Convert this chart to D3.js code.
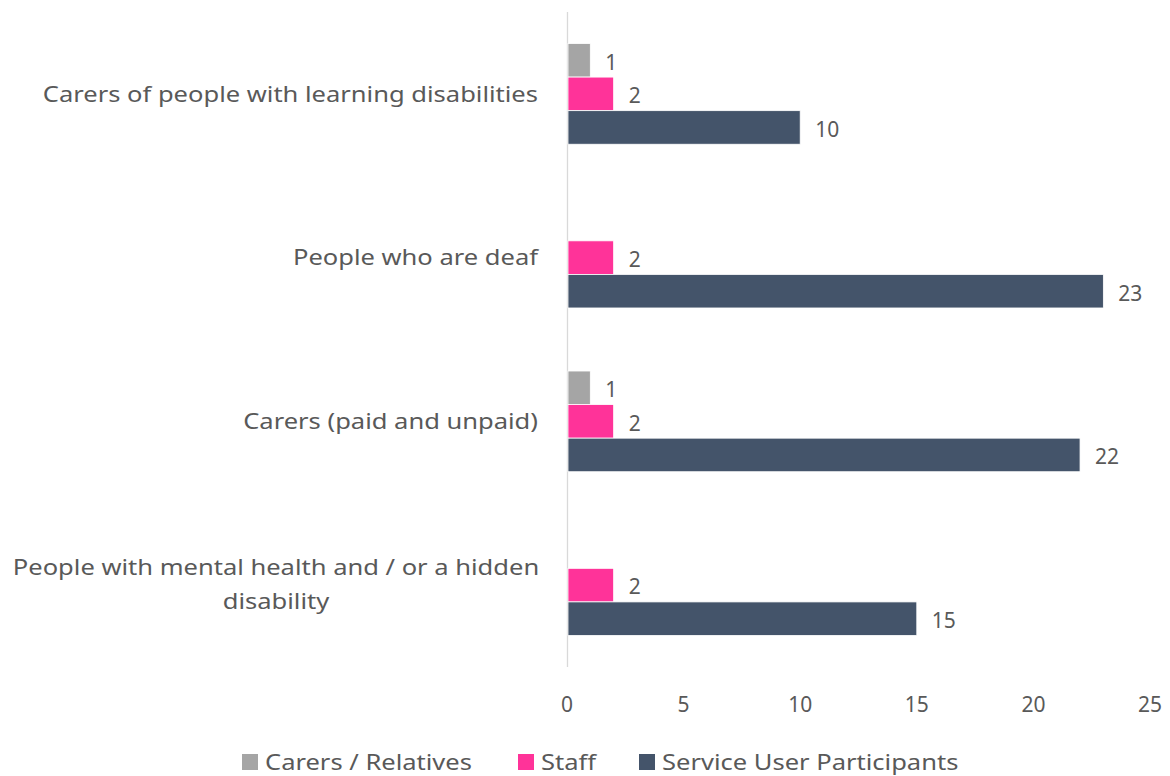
<!DOCTYPE html>
<html><head>
<meta charset="utf-8">
<script src="https://d3js.org/d3.v7.min.js"></script>
<style>
body { margin: 0; background: #fff; }
svg text { font-family: 'Noto Sans', sans-serif; fill: #595959; }
</style>
</head>
<body>
<svg id="chart" width="1170" height="776"></svg>
<script>
// data
const categories = [
  "Carers of people with learning disabilities",
  "People who are deaf",
  "Carers (paid and unpaid)",
  "People with mental health and / or a hidden disability"
];
const seriesNames = ["Carers / Relatives", "Staff", "Service User Participants"];
const carersRelatives = [1, null, 1, null];
const staff = [2, 2, 2, 2];
const serviceUsers = [10, 23, 22, 15];
const xTicks = [0, 5, 10, 15, 20, 25];
const colors = ["#A5A5A5", "#FF3399", "#44546A"];

const svg = d3.select('#chart');
const plotLeft = 567, plotRight = 1150, plotTop = 12, plotBottom = 667;
const fs = 22;
const stretch = 1.16; // reference font is a wide geometric face

function widen(sel) {
  sel.each(function () {
    const w = this.getComputedTextLength();
    d3.select(this).attr('textLength', w * stretch).attr('lengthAdjust', 'spacingAndGlyphs');
  });
  return sel;
}

const x = d3.scaleLinear().domain([0, 25]).range([plotLeft, plotRight]);
const y = d3.scaleBand().domain(categories).range([plotTop, plotBottom]);
const barH = y.bandwidth() * 0.205;
const series = [carersRelatives, staff, serviceUsers];

// axis line
svg.append('line')
  .attr('x1', plotLeft + 0.5).attr('x2', plotLeft + 0.5)
  .attr('y1', plotTop).attr('y2', plotBottom)
  .attr('stroke', '#D9D9D9').attr('stroke-width', 1.3);

// bars
series.forEach((vals, s) => {
  categories.forEach((c, i) => {
    const v = vals[i];
    if (v == null) return;
    const yc = y(c) + y.bandwidth() / 2;
    const y0 = yc - 1.5 * barH + s * barH;
    svg.append('rect')
      .attr('x', x(0) + 1).attr('y', y0)
      .attr('width', x(v) - x(0) - 1).attr('height', barH)
      .attr('fill', colors[s])
      .attr('stroke', '#fff').attr('stroke-width', 0.8);
    svg.append('text')
      .attr('x', x(v) + 15).attr('y', y0 + barH / 2 + 2)
      .attr('dy', '0.35em')
      .attr('font-size', 21)
      .text(v);
  });
});

// category labels
categories.forEach((c, i) => {
  const yc = y(c) + y.bandwidth() / 2;
  if (c.length > 45) {
    const lines = ["People with mental health and / or a hidden", "disability"];
    lines.forEach((ln, k) => {
      widen(svg.append('text')
        .attr('text-anchor', 'middle').attr('font-size', fs)
        .attr('x', 276).attr('y', yc - 18 + k * 34).attr('dy', '0.35em')
        .text(ln));
    });
  } else {
    widen(svg.append('text')
      .attr('x', 538).attr('y', yc)
      .attr('dy', '0.35em')
      .attr('text-anchor', 'end')
      .attr('font-size', fs)
      .text(c));
  }
});

// x tick labels
xTicks.forEach(t => {
  svg.append('text')
    .attr('x', x(t)).attr('y', 705)
    .attr('dy', '0.35em')
    .attr('text-anchor', 'middle')
    .attr('font-size', 21)
    .text(t);
});

// legend
const legendX = [242, 518, 639];
seriesNames.forEach((n, i) => {
  svg.append('rect')
    .attr('x', legendX[i]).attr('y', 754)
    .attr('width', 16).attr('height', 16)
    .attr('fill', colors[i]);
  widen(svg.append('text')
    .attr('x', legendX[i] + 23).attr('y', 762)
    .attr('dy', '0.35em')
    .attr('font-size', fs)
    .text(n));
});
</script>
</body></html>
